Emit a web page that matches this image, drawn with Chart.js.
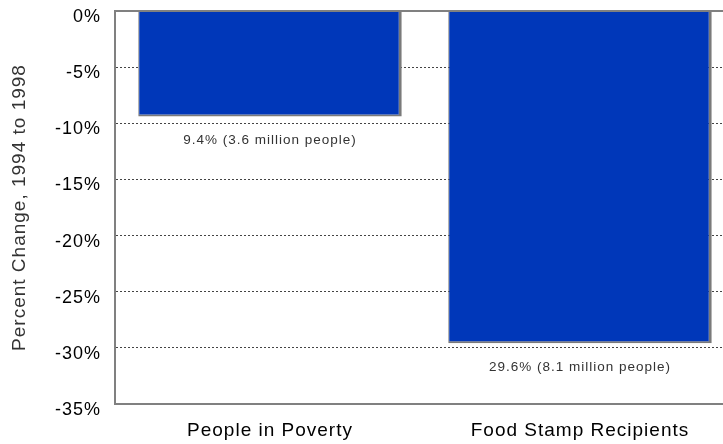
<!DOCTYPE html>
<html>
<head>
<meta charset="utf-8">
<script src="https://cdn.jsdelivr.net/npm/chart.js@4/dist/chart.umd.min.js"></script>
<style>
  html, body { margin: 0; padding: 0; background: #fff; overflow: hidden; }
  #wrap { width: 740px; height: 444px; position: relative; }
</style>
</head>
<body>
<div id="wrap"><canvas id="chart"></canvas></div>
<script>
// Change in poverty population vs. food stamp caseload, 1994-1998
const categories = ['People in Poverty', 'Food Stamp Recipients'];
const percentChange = [-9.4, -29.6];
const millionsOfPeople = [3.6, 8.1];
const yTicks = [0, -5, -10, -15, -20, -25, -30, -35];

const FONT = "'Liberation Sans', Arial, sans-serif";

// Slightly wider text spacing for all canvas text
const spacing = {
  id: 'spacing',
  beforeLayout(chart) { chart.ctx.letterSpacing = '1px'; },
  beforeDraw(chart) { chart.ctx.letterSpacing = '1px'; }
};

// Caption under each bar: size of the drop and number of people
const barCaptions = {
  id: 'barCaptions',
  afterDatasetsDraw(chart) {
    const ctx = chart.ctx;
    const meta = chart.getDatasetMeta(0);
    ctx.save();
    ctx.font = `13.5px ${FONT}`;
    ctx.fillStyle = '#333';
    ctx.textAlign = 'center';
    ctx.textBaseline = 'middle';
    meta.data.forEach((bar, i) => {
      const txt = `${Math.abs(percentChange[i])}% (${millionsOfPeople[i]} million people)`;
      ctx.fillText(txt, bar.x, bar.y + 24);
    });
    ctx.restore();
  }
};

new Chart(document.getElementById('chart'), {
  type: 'bar',
  data: {
    labels: categories,
    datasets: [{
      data: percentChange,
      backgroundColor: '#0037B9',
      borderColor: '#7a7a7a',
      borderWidth: { top: 0, left: 1, right: 3, bottom: 2 },
      borderSkipped: false,
      categoryPercentage: 1,
      barPercentage: 0.85
    }]
  },
  options: {
    responsive: true,
    maintainAspectRatio: false,
    animation: false,
    layout: { padding: { top: 11, right: 5, left: 0, bottom: 0 } },
    plugins: { legend: { display: false }, tooltip: { enabled: false } },
    scales: {
      x: {
        grid: { display: false },
        border: { display: true, color: '#808080', width: 2 },
        ticks: { color: '#000', padding: 7, font: { family: FONT, size: 19 } },
        afterFit(s) { s.height = 40; s.paddingLeft = 0; s.paddingRight = 0; }
      },
      y: {
        min: -35,
        max: 0,
        afterBuildTicks(s) { s.ticks = yTicks.map(v => ({ value: v })); },
        ticks: {
          color: '#000',
          padding: 14,
          labelOffset: 6,
          font: { family: FONT, size: 18 },
          callback: v => v + '%'
        },
        grid: {
          drawTicks: false,
          color: c => c.tick.value === -35 ? 'rgba(0,0,0,0)' : (c.tick.value === 0 ? '#808080' : '#444'),
          lineWidth: c => c.tick.value === 0 ? 2 : 1
        },
        border: {
          display: true,
          color: '#808080',
          width: 2,
          dash: c => (c.tick && c.tick.value !== 0) ? [2, 2] : []
        },
        title: {
          display: true,
          text: 'Percent Change, 1994 to 1998',
          color: '#333',
          padding: { top: 8, bottom: 0 },
          font: { family: FONT, size: 19 }
        },
        afterFit(s) { s.width = 115; s.paddingTop = 0; s.paddingBottom = 0; }
      }
    }
  },
  plugins: [spacing, barCaptions]
});
</script>
</body>
</html>
